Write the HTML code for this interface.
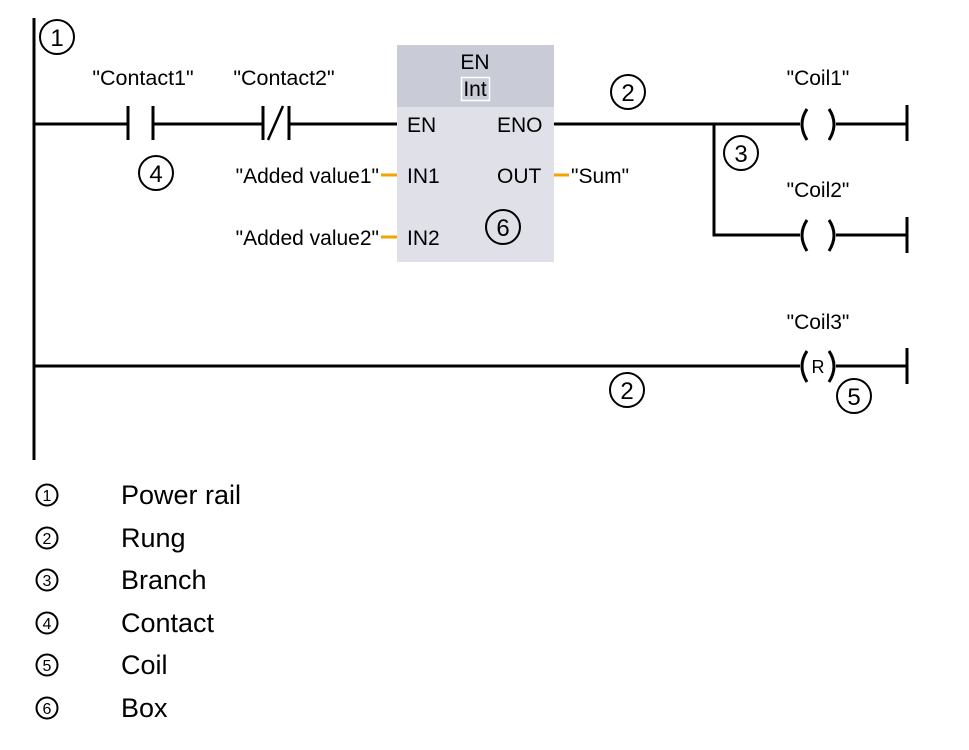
<!DOCTYPE html>
<html><head><meta charset="utf-8"><style>
html,body{margin:0;padding:0;background:#fff;}
svg{display:block;}
text{font-family:"Liberation Sans",Arial,sans-serif;fill:#000;}
</style></head><body>
<svg width="969" height="750" viewBox="0 0 969 750" xmlns="http://www.w3.org/2000/svg">
<g stroke="#000" stroke-width="3" fill="none">
<line x1="34" y1="18" x2="34" y2="460"/>
<line x1="34" y1="124" x2="128" y2="124"/>
<line x1="128" y1="106" x2="128" y2="140"/>
<line x1="153" y1="106" x2="153" y2="140"/>
<line x1="153" y1="124" x2="263" y2="124"/>
<line x1="263" y1="106" x2="263" y2="140"/>
<line x1="289" y1="106" x2="289" y2="140"/>
<line x1="268" y1="140" x2="283" y2="106" stroke-width="2.5"/>
<line x1="289" y1="124" x2="397" y2="124"/>
<line x1="553" y1="124" x2="800" y2="124"/>
<polyline points="714,124 714,235 800,235"/>
<path d="M807,109 Q797,124 807,140"/><path d="M829,109 Q839,124 829,140"/>
<line x1="836" y1="124" x2="907" y2="124"/>
<line x1="907" y1="105" x2="907" y2="141"/>
<path d="M807,220 Q797,235 807,251"/><path d="M829,220 Q839,235 829,251"/>
<line x1="836" y1="235" x2="907" y2="235"/>
<line x1="907" y1="217" x2="907" y2="253"/>
<line x1="34" y1="366" x2="800" y2="366"/>
<path d="M807,351 Q797,366 807,382"/><path d="M829,351 Q839,366 829,382"/>
<line x1="836" y1="366" x2="907" y2="366"/>
<line x1="907" y1="348" x2="907" y2="384"/>
</g>
<rect x="397" y="45" width="157" height="62" fill="#c9cbd6"/>
<rect x="397" y="107" width="157" height="155" fill="#dfe0e8"/>
<rect x="461.5" y="77.5" width="28" height="23" fill="none" stroke="#fff" stroke-width="1.5"/>
<g stroke="#f5a300" stroke-width="3">
<line x1="381" y1="175" x2="397" y2="175"/>
<line x1="381" y1="237" x2="397" y2="237"/>
<line x1="554" y1="175" x2="569" y2="175"/>
</g>
<g font-size="21">
<text x="475" y="69" text-anchor="middle">EN</text>
<text x="475" y="96" text-anchor="middle">Int</text>
<text x="407" y="132">EN</text>
<text x="497" y="132">ENO</text>
<text x="407" y="183">IN1</text>
<text x="497" y="183">OUT</text>
<text x="407" y="245">IN2</text>
<text x="379" y="183" text-anchor="end">"Added value1"</text>
<text x="379" y="245" text-anchor="end">"Added value2"</text>
<text x="571" y="183">"Sum"</text>
<text x="143" y="85" text-anchor="middle" font-size="21.5">"Contact1"</text>
<text x="284" y="85" text-anchor="middle" font-size="21.5">"Contact2"</text>
<text x="818" y="85" text-anchor="middle">"Coil1"</text>
<text x="818" y="197" text-anchor="middle">"Coil2"</text>
<text x="818" y="329" text-anchor="middle">"Coil3"</text>
<text x="818" y="373" text-anchor="middle" font-size="18">R</text>
</g>
<g stroke="#000" stroke-width="2" fill="none">
<circle cx="57" cy="37" r="17"/>
<circle cx="156" cy="173" r="17"/>
<circle cx="628" cy="92" r="17"/>
<circle cx="741" cy="153" r="17"/>
<circle cx="503" cy="227" r="17"/>
<circle cx="627" cy="390" r="17"/>
<circle cx="854" cy="396" r="17"/>
</g>
<g font-size="24" text-anchor="middle">
<text x="57" y="46">1</text>
<text x="156" y="182">4</text>
<text x="628" y="101">2</text>
<text x="741" y="162">3</text>
<text x="503" y="236">6</text>
<text x="627" y="399">2</text>
<text x="854" y="405">5</text>
</g>
<g stroke="#000" stroke-width="2" fill="none">
<circle cx="47" cy="495" r="10.5"/><circle cx="47" cy="538" r="10.5"/><circle cx="47" cy="580" r="10.5"/>
<circle cx="47" cy="623" r="10.5"/><circle cx="47" cy="665" r="10.5"/><circle cx="47" cy="708" r="10.5"/>
</g>
<g font-size="16" text-anchor="middle">
<text x="47" y="501">1</text><text x="47" y="544">2</text><text x="47" y="586">3</text>
<text x="47" y="629">4</text><text x="47" y="671">5</text><text x="47" y="714">6</text>
</g>
<g font-size="27">
<text x="121" y="504">Power rail</text>
<text x="121" y="547">Rung</text>
<text x="121" y="589">Branch</text>
<text x="121" y="632">Contact</text>
<text x="121" y="674">Coil</text>
<text x="121" y="717">Box</text>
</g>
</svg>
</body></html>
